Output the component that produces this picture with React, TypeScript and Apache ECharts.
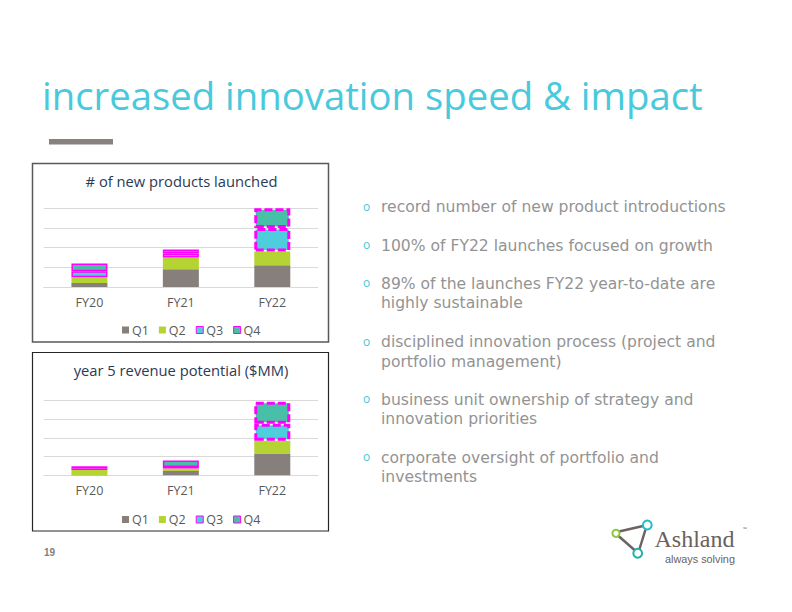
import React, { useEffect, useRef } from "react";
import * as echarts from "echarts";

const years = ["FY20", "FY21", "FY22"];
const quarters = ["Q1", "Q2", "Q3", "Q4"];

// # of new products launched (stacked by quarter)
const launchedQ1 = [2, 9, 11];
const launchedQ2 = [3, 6, 7];
const launchedQ3 = [3, 2, 12];
const launchedQ4 = [4, 2, 10];

// year 5 revenue potential ($MM)
const revenueQ1 = [0.2, 2.3, 11.7];
const revenueQ2 = [2.6, 1.3, 6.8];
const revenueQ3 = [1.0, 0.9, 9.1];
const revenueQ4 = [1.1, 3.4, 11.8];

const slideTitle = "increased innovation speed & impact";
const chartTitles = ["# of new products launched", "year 5 revenue potential ($MM)"];
const bullets = [
  ["record number of new product introductions"],
  ["100% of FY22 launches focused on growth"],
  ["89% of the launches FY22 year-to-date are", "highly sustainable"],
  ["disciplined innovation process (project and", "portfolio management)"],
  ["business unit ownership of strategy and", "innovation priorities"],
  ["corporate oversight of portfolio and", "investments"],
];

const FONT = "'Open Sans', sans-serif";
const BULLET_FONT = "'DejaVu Sans', sans-serif";
const C = {
  q1: "#877f7c",
  q2: "#b6d334",
  q3: "#4ecddc",
  q4: "#48c0a8",
  mag: "#ff00ff",
  grid: "#d9d9d9",
  axisText: "#595959",
  titleCyan: "#48c9dc",
  chartTitle: "#2b3a55",
  bullet: "#939393",
  logo: "#6b615c",
};

function fitSize(text: string, family: string, target: number, weight = "normal") {
  const ctx = document.createElement("canvas").getContext("2d");
  if (!ctx) return 14;
  ctx.font = `${weight} 100px ${family}`;
  const w = ctx.measureText(text).width;
  return (100 * target) / w;
}

export default function App() {
  const ref = useRef<HTMLDivElement>(null);
  useEffect(() => {
    if (!ref.current) return;
    const chart = echarts.init(ref.current, undefined, { renderer: "svg" });

    const titleSize = fitSize(slideTitle, FONT, 661);
    const ct1Size = fitSize(chartTitles[0], FONT, 192);
    const bulletSize = fitSize(bullets[0][0], BULLET_FONT, 345);

    const mkSeries = (
      name: string,
      values: number[],
      color: string,
      idx: number,
      bordered: boolean
    ) => ({
      name,
      type: "bar",
      stack: idx === 0 ? "launch" : "revenue",
      xAxisIndex: idx,
      yAxisIndex: idx,
      barWidth: 36,
      itemStyle: { color },
      data: values.map((v, i) =>
        bordered
          ? {
              value: v,
              itemStyle: {
                borderColor: C.mag,
                borderWidth: i === 2 ? 3 : 1.5,
                borderType: i === 2 ? [8, 3] : "solid",
              },
            }
          : v
      ),
    });

    const legendData = [
      { name: "Q1" },
      { name: "Q2" },
      { name: "Q3", itemStyle: { borderColor: C.mag, borderWidth: 1 } },
      { name: "Q4", itemStyle: { borderColor: C.mag, borderWidth: 1 } },
    ];
    const mkLegend = (top: number) => ({
      left: 117,
      top,
      icon: "rect",
      itemWidth: 7,
      itemHeight: 7,
      itemGap: 10,
      selectedMode: false,
      textStyle: { fontSize: 12.5, color: C.axisText, fontFamily: FONT, padding: [0, 0, 0, -2] },
      data: legendData,
    });

    const mkX = (idx: number) => ({
      type: "category",
      gridIndex: idx,
      data: years,
      axisLine: { lineStyle: { color: C.grid, width: 1 } },
      axisTick: { show: false },
      axisLabel: { color: C.axisText, fontSize: 12.5, fontFamily: FONT, margin: 9 },
    });
    const mkY = (idx: number) => ({
      type: "value",
      gridIndex: idx,
      min: 0,
      max: 40,
      interval: 10,
      axisLabel: { show: false },
      axisLine: { show: false },
      axisTick: { show: false },
      splitLine: { lineStyle: { color: C.grid, width: 1 } },
    });

    const graphics: any[] = [];
    // slide title
    graphics.push({
      type: "text",
      x: 42,
      y: 95,
      style: {
        text: slideTitle,
        fontSize: titleSize,
        fontFamily: FONT,
        fill: C.titleCyan,
        verticalAlign: "middle",
      },
    });
    // gray accent bar
    graphics.push({
      type: "rect",
      shape: { x: 49, y: 139, width: 64, height: 5.5 },
      style: { fill: "#878180" },
    });
    // chart frames
    graphics.push({
      type: "rect",
      shape: { x: 32.5, y: 163.5, width: 296, height: 178.5 },
      style: { fill: "none", stroke: "#595959", lineWidth: 1.5 },
      z: 10,
    });
    graphics.push({
      type: "rect",
      shape: { x: 32.5, y: 352.5, width: 296, height: 178.5 },
      style: { fill: "none", stroke: "#262626", lineWidth: 1.2 },
      z: 10,
    });
    // chart titles
    graphics.push({
      type: "text",
      x: 181.5,
      y: 180.5,
      style: {
        text: chartTitles[0],
        fontSize: ct1Size,
        fontFamily: FONT,
        fill: C.chartTitle,
        align: "center",
        verticalAlign: "middle",
      },
    });
    graphics.push({
      type: "text",
      x: 181,
      y: 370,
      style: {
        text: chartTitles[1],
        fontSize: ct1Size,
        fontFamily: FONT,
        fill: C.chartTitle,
        align: "center",
        verticalAlign: "middle",
      },
    });
    // bullets
    const bulletYs = [206.5, 245, 283.3, 341.5, 399.3, 456.7];
    const LH = 19.2;
    bullets.forEach((lines, i) => {
      graphics.push({
        type: "text",
        x: 366.7,
        y: bulletYs[i] - 0.5,
        style: {
          text: "o",
          fontSize: 12,
          fontFamily: FONT,
          fill: "#4cc6d6",
          align: "center",
          verticalAlign: "middle",
        },
      });
      graphics.push({
        type: "text",
        x: 381,
        y: bulletYs[i] + 1 - LH / 2,
        style: {
          text: lines.join("\n"),
          fontSize: bulletSize,
          lineHeight: LH,
          fontFamily: BULLET_FONT,
          fill: C.bullet,
          verticalAlign: "top",
        },
      });
    });
    // page number
    graphics.push({
      type: "text",
      x: 49.5,
      y: 552.5,
      style: {
        text: "19",
        fontSize: 10,
        fontWeight: "bold",
        fontFamily: "'Liberation Sans', Arial, sans-serif",
        fill: "#7f7f7f",
        align: "center",
        verticalAlign: "middle",
      },
    });
    // logo
    const lineStyle = { stroke: "#6d6360", lineWidth: 2.5, lineCap: "round" };
    graphics.push({ type: "line", shape: { x1: 619, y1: 531.5, x2: 643, y2: 526 }, style: lineStyle });
    graphics.push({ type: "line", shape: { x1: 618.5, y1: 536, x2: 634.5, y2: 550 }, style: lineStyle });
    graphics.push({ type: "line", shape: { x1: 639.5, y1: 549, x2: 645.5, y2: 529.5 }, style: lineStyle });
    graphics.push({ type: "circle", shape: { cx: 616, cy: 533.3, r: 3.6 }, style: { fill: "#fff", stroke: "#8dc63f", lineWidth: 2 } });
    graphics.push({ type: "circle", shape: { cx: 647.3, cy: 525, r: 4.4 }, style: { fill: "#fff", stroke: "#26bccc", lineWidth: 2 } });
    graphics.push({ type: "circle", shape: { cx: 637.7, cy: 553.3, r: 4.4 }, style: { fill: "#fff", stroke: "#1fb3a8", lineWidth: 2 } });
    graphics.push({
      type: "text",
      x: 654.5,
      y: 538.5,
      style: {
        text: "Ashland",
        fontSize: 24,
        lineHeight: 18,
        fontFamily: "'Liberation Serif', 'DejaVu Serif', serif",
        fill: C.logo,
        verticalAlign: "middle",
      },
    });
    graphics.push({
      type: "text",
      x: 743,
      y: 529,
      style: { text: "™", fontSize: 5, fontFamily: FONT, fill: C.logo, verticalAlign: "middle" },
    });
    graphics.push({
      type: "text",
      x: 665,
      y: 558.5,
      style: {
        text: "always solving",
        fontSize: fitSize("always solving", "'Liberation Sans', sans-serif", 70),
        lineHeight: 8,
        fontFamily: "'Liberation Sans', sans-serif",
        fill: C.logo,
        verticalAlign: "middle",
      },
    });

    chart.setOption({
      animation: false,
      backgroundColor: "#ffffff",
      grid: [
        { left: 43.7, width: 274.3, top: 208.3, height: 78.7 },
        { left: 43.7, width: 274.3, top: 400.7, height: 74.6 },
      ],
      xAxis: [mkX(0), mkX(1)],
      yAxis: [mkY(0), mkY(1)],
      legend: [mkLegend(318.5), mkLegend(508)],
      series: [
        mkSeries(quarters[0], launchedQ1, C.q1, 0, false),
        mkSeries(quarters[1], launchedQ2, C.q2, 0, false),
        mkSeries(quarters[2], launchedQ3, C.q3, 0, true),
        mkSeries(quarters[3], launchedQ4, C.q4, 0, true),
        mkSeries(quarters[0], revenueQ1, C.q1, 1, false),
        mkSeries(quarters[1], revenueQ2, C.q2, 1, false),
        mkSeries(quarters[2], revenueQ3, C.q3, 1, true),
        mkSeries(quarters[3], revenueQ4, C.q4, 1, true),
      ],
      graphic: graphics,
    });
    return () => chart.dispose();
  }, []);

  return (
    <div
      ref={ref}
      style={{ position: "fixed", left: 0, top: 0, width: 792, height: 612 }}
    />
  );
}
